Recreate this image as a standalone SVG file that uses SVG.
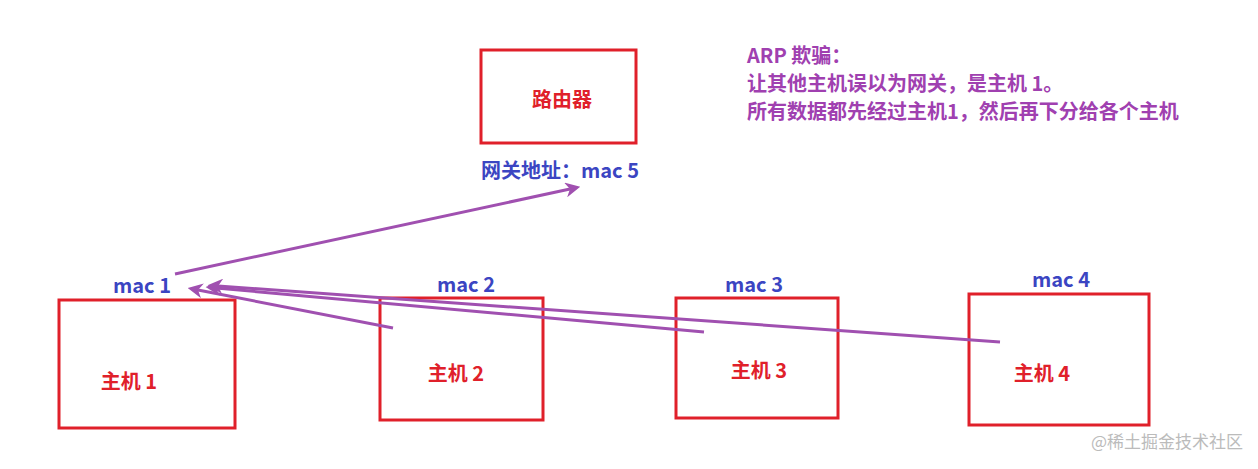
<svg xmlns="http://www.w3.org/2000/svg" width="1258" height="469" viewBox="0 0 1258 469">
<style>
.box{fill:none;stroke:#e0202a;stroke-width:3}
.lbl{font-family:"Noto Sans CJK SC",sans-serif;font-weight:bold;font-size:20px;fill:#e0202a}
.mac{font-family:"Noto Sans CJK SC",sans-serif;font-weight:bold;font-size:20px;fill:#3b45c2}
.note{font-family:"Noto Sans CJK SC",sans-serif;font-weight:bold;font-size:20px;fill:#a040b0}
.c{stroke:#a050b0;stroke-width:3;fill:none;marker-end:url(#a)}
</style>
<defs><marker id="a" viewBox="0 0 10 10" refX="3" refY="5" markerWidth="5" markerHeight="5" orient="auto"><path d="M0,0L10,5L0,10L3,5z" fill="#a050b0"/></marker></defs>
<rect width="1258" height="469" fill="#fff"/>
<g id="router"><rect class="box" x="481" y="50" width="155" height="93"/><text class="lbl" x="562" y="107" text-anchor="middle" font-size="18">路由器</text><text class="mac" x="560" y="178" text-anchor="middle">网关地址：mac 5</text></g>
<g id="host1"><rect class="box" x="59" y="300" width="176" height="128"/><text class="lbl" x="129" y="389" text-anchor="middle">主机 1</text><text class="mac" x="142" y="293" text-anchor="middle">mac 1</text></g>
<g id="host2"><rect class="box" x="380" y="298" width="163" height="122"/><text class="lbl" x="456" y="381" text-anchor="middle">主机 2</text><text class="mac" x="466" y="292" text-anchor="middle">mac 2</text></g>
<g id="host3"><rect class="box" x="676" y="298" width="162" height="120"/><text class="lbl" x="759" y="378" text-anchor="middle">主机 3</text><text class="mac" x="754" y="292" text-anchor="middle">mac 3</text></g>
<g id="host4"><rect class="box" x="969" y="294" width="180" height="131"/><text class="lbl" x="1042" y="381" text-anchor="middle">主机 4</text><text class="mac" x="1061" y="287" text-anchor="middle">mac 4</text></g>
<g id="note"><text class="note" x="747" y="63">ARP 欺骗：</text><text class="note" x="747" y="91">让其他主机误以为网关，是主机 1。</text><text class="note" x="747" y="119">所有数据都先经过主机1，然后再下分给各个主机</text></g>
<g id="connectors">
<path class="c" d="M175,274L570,189"/>
<path class="c" d="M393,328L198,290"/>
<path class="c" d="M704,332L216,288"/>
<path class="c" d="M1000,342L218,286"/>
</g>
<text x="1243" y="448" text-anchor="end" font-family="Noto Sans CJK SC,sans-serif" font-size="17" fill="#bbb">@稀土掘金技术社区</text>
</svg>
